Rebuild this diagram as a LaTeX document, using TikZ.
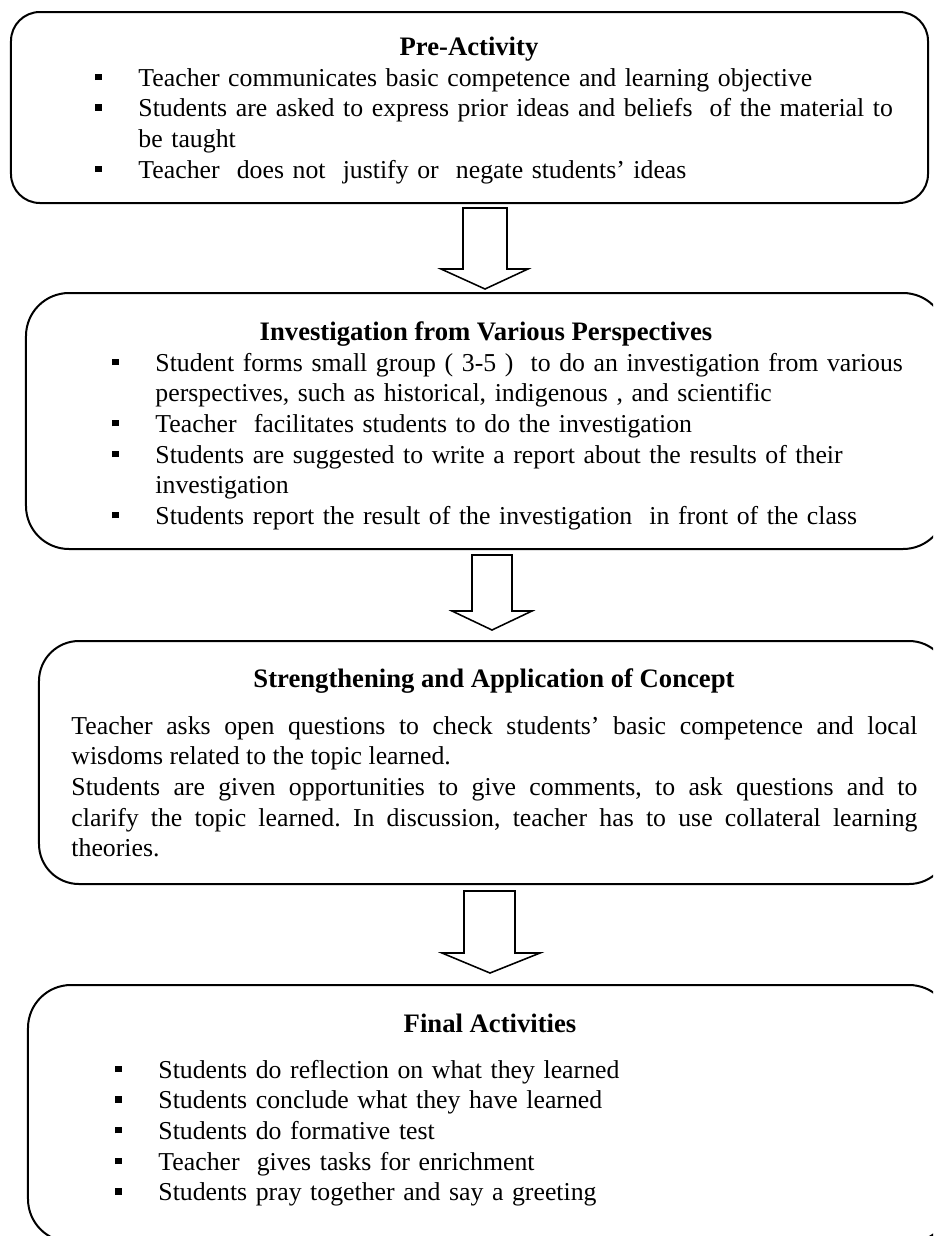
\documentclass[tikz,border=0pt]{standalone}
\usepackage{fontspec}
\setmainfont{Liberation Serif}
\frenchspacing

\newcommand{\sqbullet}{\leavevmode\llap{\raisebox{2.7pt}{\rule{2.8pt}{2.8pt}}\hspace{16.6pt}}}

\begin{document}
\begin{tikzpicture}[x=0.45pt, y=-0.45pt,
    phasebox/.style={draw, line width=0.9pt, inner sep=0pt},
    phasetitle/.style={anchor=base, inner sep=0pt, font=\bfseries\fontsize{12}{13.8}\selectfont},
    phaselist/.style={anchor=base west, inner sep=0pt, align=left, text width=370pt, font=\fontsize{11.6}{13.8}\selectfont},
    phasetext/.style={anchor=base west, inner sep=0pt, align=justify, text width=380.7pt, font=\fontsize{11.6}{13.8}\selectfont},
    flowarrow/.style={draw, line width=0.7pt, line join=miter, fill=white}]

    \useasboundingbox (0,0) rectangle (933,1236);
    \clip (0,0) rectangle (933,1236);

    \node[phasebox, rounded corners=13pt, minimum width=412.65pt, minimum height=85.95pt] (pre) at (469.5,107.5) {};
    \node[phasebox, rounded corners=19.35pt, minimum width=414pt, minimum height=115.2pt] (inv) at (486,421) {};
    \node[phasebox, rounded corners=18pt, minimum width=409.5pt, minimum height=109.35pt] (str) at (494,762.5) {};
    \node[phasebox, rounded corners=19.35pt, minimum width=415.8pt, minimum height=115.65pt] (fin) at (490,1113.5) {};

    \node[phasetitle] (preTitle) at (469,55) {Pre-Activity};
    \node[phaselist] (preList) at (138,86) {%
        \sqbullet Teacher communicates basic competence and learning objective\\
        \sqbullet Students are asked to express prior ideas and beliefs~ of the material to\\
        be taught\\
        \sqbullet Teacher~ does not~ justify or~ negate students’ ideas};

    \node[phasetitle] (invTitle) at (486,340) {Investigation from Various Perspectives};
    \node[phaselist] (invList) at (155,371) {%
        \sqbullet Student forms small group ( 3-5 )~ to do an investigation from various\\
        perspectives, such as historical, indigenous , and scientific\\
        \sqbullet Teacher~ facilitates students to do the investigation\\
        \sqbullet Students are suggested to write a report about the results of their\\
        investigation\\
        \sqbullet Students report the result of the investigation~ in front of the class};

    \node[phasetitle] (strTitle) at (494,687) {Strengthening and Application of Concept};
    \node[phasetext] (strText) at (71,734) {%
        Teacher asks open questions to check students’ basic competence and local\linebreak
        wisdoms related to the topic learned.\\
        Students are given opportunities to give comments, to ask questions and to\linebreak
        clarify the topic learned. In discussion, teacher has to use collateral learning\linebreak
        theories.};

    \node[phasetitle] (finTitle) at (490,1032) {Final Activities};
    \node[phaselist] (finList) at (158,1078) {%
        \sqbullet Students do reflection on what they learned\\
        \sqbullet Students conclude what they have learned\\
        \sqbullet Students do formative test\\
        \sqbullet Teacher~ gives tasks for enrichment\\
        \sqbullet Students pray together and say a greeting};

    \draw[flowarrow] (463,208) -- (507,208) -- (507,269) -- (528,269) -- (485,289) -- (441,269) -- (463,269) -- cycle;
    \draw[flowarrow] (472,555) -- (512,555) -- (512,611) -- (532,611) -- (492,630) -- (452,611) -- (472,611) -- cycle;
    \draw[flowarrow] (464,891) -- (515,891) -- (515,953) -- (540,953) -- (490,973) -- (442,953) -- (464,953) -- cycle;
\end{tikzpicture}
\end{document}
